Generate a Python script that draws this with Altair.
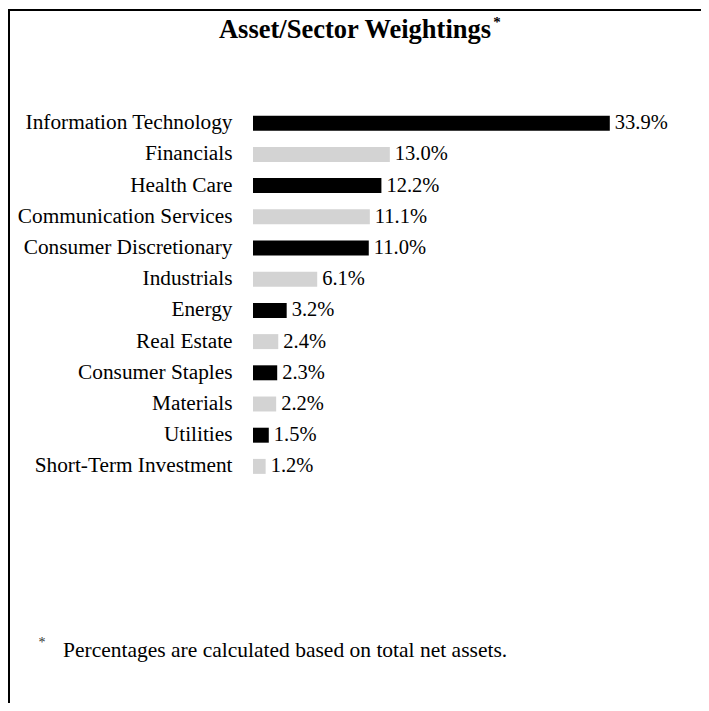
import altair as alt
import pandas as pd

sectors = ["Information Technology", "Financials", "Health Care", "Communication Services",
           "Consumer Discretionary", "Industrials", "Energy", "Real Estate",
           "Consumer Staples", "Materials", "Utilities", "Short-Term Investment"]
values = [33.9, 13.0, 12.2, 11.1, 11.0, 6.1, 3.2, 2.4, 2.3, 2.2, 1.5, 1.2]
shades = ["dark", "light"] * 6

title_text = "Asset/Sector Weightings"
footnote_text = "Percentages are calculated based on total net assets."

FONT = "Liberation Serif"

df = pd.DataFrame({"sector": sectors, "value": values, "shade": shades})

W, H = 421, 374.4
PL, PT = 245, 99.6
TOTAL_W, TOTAL_H = 693, 695

y_enc = alt.Y("sector:N", sort=sectors,
              scale=alt.Scale(paddingInner=0.52, paddingOuter=0.26),
              axis=alt.Axis(title=None, ticks=False, domain=False, labelPadding=21,
                            labelFont=FONT, labelFontSize=21.3, labelColor="black",
                            labelLimit=400))
x_enc = alt.X("value:Q", scale=alt.Scale(domain=[0, 40]), axis=None)

bars = alt.Chart(df).mark_bar().encode(
    y=y_enc, x=x_enc,
    color=alt.Color("shade:N", scale=alt.Scale(domain=["dark", "light"],
                                               range=["#000000", "#d3d3d3"]), legend=None),
)
labels = alt.Chart(df).transform_calculate(
    lab="format(datum.value, '.1f') + '%'"
).mark_text(align="left", baseline="middle", dx=5, font=FONT, fontSize=20.5, color="black").encode(
    y=alt.Y("sector:N", sort=sectors), x="value:Q", text="lab:N"
)

one = pd.DataFrame({"a": [0]})
ox, oy = PL + 8, PT + 8

border_left = alt.Chart(one).mark_rule(color="black", strokeWidth=2).encode(
    x=alt.value(9 - ox), y=alt.value(9 - oy), y2=alt.value(711 - oy))
border_top = alt.Chart(one).mark_rule(color="black", strokeWidth=2).encode(
    y=alt.value(10 - oy), x=alt.value(8 - ox), x2=alt.value(709 - ox))

title = alt.Chart(pd.DataFrame({"t": [title_text]})).mark_text(
    font=FONT, fontSize=26.5, fontWeight="bold", align="center", baseline="alphabetic", color="black"
).encode(text="t:N", x=alt.value(355 - ox), y=alt.value(38 - oy))
title_star = alt.Chart(pd.DataFrame({"t": ["*"]})).mark_text(
    font=FONT, fontSize=15, fontWeight="bold", align="center", baseline="middle", color="black"
).encode(text="t:N", x=alt.value(497 - ox), y=alt.value(22 - oy))

foot = alt.Chart(pd.DataFrame({"t": [footnote_text]})).mark_text(
    font=FONT, fontSize=21.5, align="left", baseline="alphabetic", color="black"
).encode(text="t:N", x=alt.value(63 - ox), y=alt.value(657 - oy))
foot_star = alt.Chart(pd.DataFrame({"t": ["*"]})).mark_text(
    font=FONT, fontSize=14, align="center", baseline="middle", color="#333333"
).encode(text="t:N", x=alt.value(42 - ox), y=alt.value(643 - oy))

chart = alt.layer(bars, labels, border_left, border_top, title, title_star, foot, foot_star).properties(
    width=W, height=H,
    autosize=alt.AutoSizeParams(type="none"),
    padding={"left": PL, "top": PT, "right": TOTAL_W - PL - W, "bottom": TOTAL_H - PT - H},
).configure_view(stroke=None)

chart.save("out.html", embed_options={"renderer": "svg", "actions": False})
